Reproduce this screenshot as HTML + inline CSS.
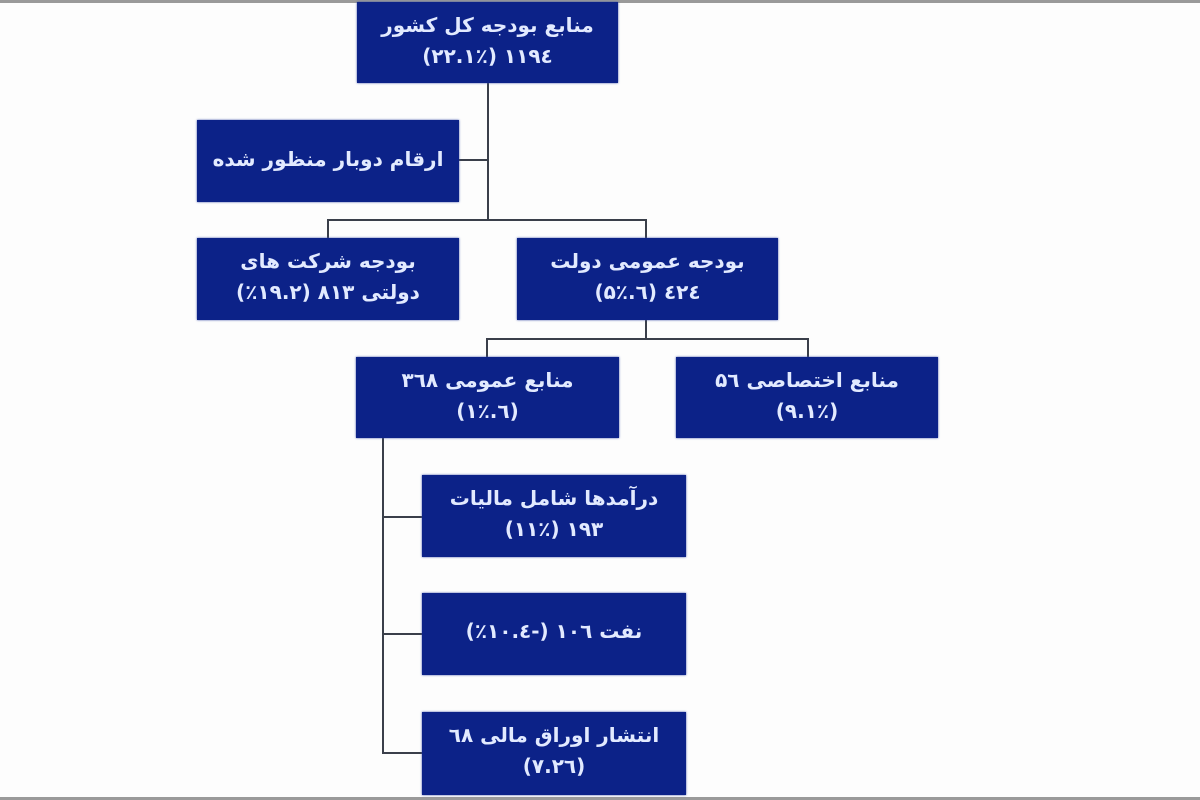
<!DOCTYPE html>
<html><head><meta charset="utf-8"><style>
body{margin:0;width:1200px;height:800px;background:#fdfdfd;position:relative;overflow:hidden;font-family:"DejaVu Sans","Liberation Sans",sans-serif;}
.b{position:absolute;background:#0c2288;color:#e2eaff;direction:rtl;text-align:center;font-size:20px;font-weight:bold;line-height:31px;box-sizing:border-box;padding-top:8px;box-shadow:0 0 2px #3a4fa8;}
.l{position:absolute;background:#3a3f4a;}
</style></head><body>
<div style="position:absolute;left:0;top:0;width:1200px;height:3px;background:#9a9a9a"></div>
<div style="position:absolute;left:0;bottom:0;width:1200px;height:3px;background:#9a9a9a"></div>
<div class="l" style="left:487px;top:83px;width:2px;height:138px"></div>
<div class="l" style="left:459px;top:159px;width:29px;height:2px"></div>
<div class="l" style="left:327px;top:219px;width:320px;height:2px"></div>
<div class="l" style="left:327px;top:219px;width:2px;height:19px"></div>
<div class="l" style="left:645px;top:219px;width:2px;height:19px"></div>
<div class="l" style="left:645px;top:320px;width:2px;height:19px"></div>
<div class="l" style="left:486px;top:338px;width:323px;height:2px"></div>
<div class="l" style="left:486px;top:338px;width:2px;height:19px"></div>
<div class="l" style="left:807px;top:338px;width:2px;height:19px"></div>
<div class="l" style="left:382px;top:438px;width:2px;height:316px"></div>
<div class="l" style="left:382px;top:516px;width:40px;height:2px"></div>
<div class="l" style="left:382px;top:633px;width:40px;height:2px"></div>
<div class="l" style="left:382px;top:752px;width:40px;height:2px"></div>
<div class="b" style="left:357px;top:2px;width:261px;height:81px">منابع بودجه کل کشور<br>۱۱۹٤ (۲۲.۱٪)</div>
<div class="b" style="left:197px;top:120px;width:262px;height:82px;padding-top:24px">ارقام دوبار منظور شده</div>
<div class="b" style="left:197px;top:238px;width:262px;height:82px">بودجه شرکت های<br>دولتی ۸۱۳ (۱۹.۲٪)</div>
<div class="b" style="left:517px;top:238px;width:261px;height:82px">بودجه عمومی دولت<br>٤۲٤ (٦.۵٪)</div>
<div class="b" style="left:356px;top:357px;width:263px;height:81px">منابع عمومی ۳٦۸<br>(٦.۱٪)</div>
<div class="b" style="left:676px;top:357px;width:262px;height:81px">منابع اختصاصی ۵٦<br>(۹.۱٪)</div>
<div class="b" style="left:422px;top:475px;width:264px;height:82px">درآمدها شامل مالیات<br>۱۹۳ (۱۱٪)</div>
<div class="b" style="left:422px;top:593px;width:264px;height:82px;padding-top:23px">نفت ۱۰٦ (-۱۰.٤٪)</div>
<div class="b" style="left:422px;top:712px;width:264px;height:83px">انتشار اوراق مالی ٦۸<br>(۲٦.۷)</div>
</body></html>
